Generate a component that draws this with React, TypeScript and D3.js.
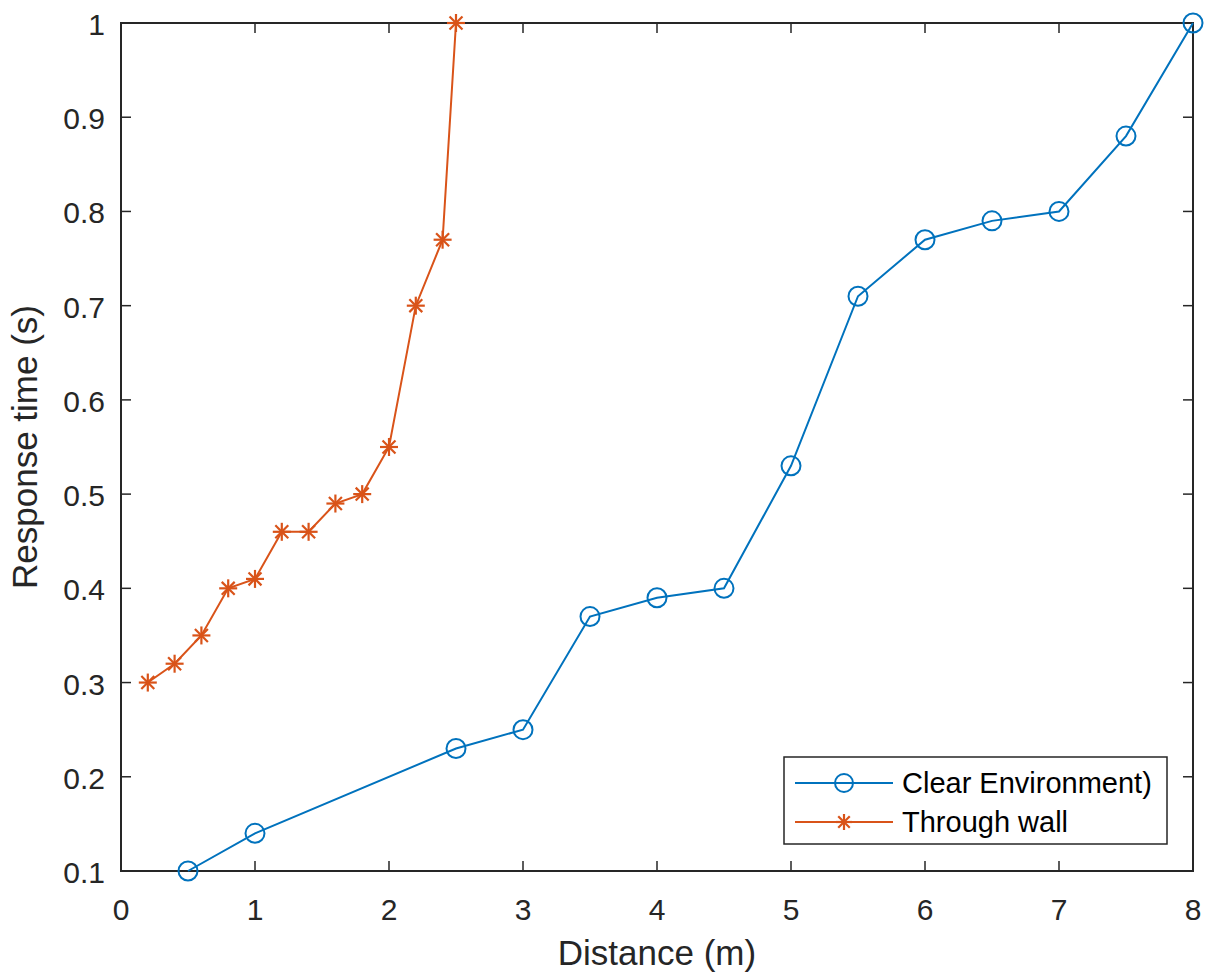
import React from 'react';
import * as d3 from 'd3';

const clearX = [0.5, 1, 2.5, 3, 3.5, 4, 4.5, 5, 5.5, 6, 6.5, 7, 7.5, 8];
const clearY = [0.1, 0.14, 0.23, 0.25, 0.37, 0.39, 0.4, 0.53, 0.71, 0.77, 0.79, 0.8, 0.88, 1.0];
const wallX = [0.2, 0.4, 0.6, 0.8, 1.0, 1.2, 1.4, 1.6, 1.8, 2.0, 2.2, 2.4, 2.5];
const wallY = [0.3, 0.32, 0.35, 0.4, 0.41, 0.46, 0.46, 0.49, 0.5, 0.55, 0.7, 0.77, 1.0];
const xTicks = [0, 1, 2, 3, 4, 5, 6, 7, 8];
const yTicks = [0.1, 0.2, 0.3, 0.4, 0.5, 0.6, 0.7, 0.8, 0.9, 1];
const seriesNames = ['Clear Environment)', 'Through wall'];

const W = 1208;
const H = 976;
const left = 121;
const right = 1193;
const top = 23;
const bottom = 871;
const axisColor = '#262626';
const blue = '#0072BD';
const orange = '#D95319';
const font = 'Helvetica, Arial, "Liberation Sans", sans-serif';

function Asterisk({ cx, cy, r }: { cx: number; cy: number; r: number }) {
  // MATLAB '*' marker: plus + cross
  const d = r * 0.72;
  return (
    <g stroke={orange} strokeWidth={2.2}>
      <line x1={cx - r} y1={cy} x2={cx + r} y2={cy} />
      <line x1={cx} y1={cy - r} x2={cx} y2={cy + r} />
      <line x1={cx - d} y1={cy - d} x2={cx + d} y2={cy + d} />
      <line x1={cx - d} y1={cy + d} x2={cx + d} y2={cy - d} />
    </g>
  );
}

export default function App() {
  const x = d3.scaleLinear().domain([0, 8]).range([left, right]);
  const y = d3.scaleLinear().domain([0.1, 1]).range([bottom, top]);
  const line = d3.line<[number, number]>().x((d) => x(d[0])).y((d) => y(d[1]));
  const clearPts: [number, number][] = clearX.map((v, i) => [v, clearY[i]]);
  const wallPts: [number, number][] = wallX.map((v, i) => [v, wallY[i]]);
  const tick = 10;

  // legend
  const lx = 784, ly = 757, lw = 383, lh = 87;
  const row1 = ly + 26, row2 = ly + 65;

  return (
    <svg width={W} height={H} style={{ position: 'absolute', left: 0, top: 0, background: '#fff' }} fontFamily={font}>
      <rect x={0} y={0} width={W} height={H} fill="#fff" />
      {/* ticks */}
      {xTicks.map((t) => (
        <g key={'x' + t} stroke={axisColor} strokeWidth={1.5}>
          <line x1={x(t)} x2={x(t)} y1={bottom} y2={bottom - tick} />
          <line x1={x(t)} x2={x(t)} y1={top} y2={top + tick} />
        </g>
      ))}
      {yTicks.map((t) => (
        <g key={'y' + t} stroke={axisColor} strokeWidth={1.5}>
          <line x1={left} x2={left + tick} y1={y(t)} y2={y(t)} />
          <line x1={right} x2={right - tick} y1={y(t)} y2={y(t)} />
        </g>
      ))}
      <rect x={left} y={top} width={right - left} height={bottom - top} fill="none" stroke={axisColor} strokeWidth={2} />
      {xTicks.map((t) => (
        <text key={'xl' + t} x={x(t)} y={bottom + 49} textAnchor="middle" fontSize={30} fill={axisColor}>
          {t}
        </text>
      ))}
      {yTicks.map((t) => (
        <text key={'yl' + t} x={left - 16} y={y(t) + 12} textAnchor="end" fontSize={30} fill={axisColor}>
          {t === 1 ? '1' : t.toFixed(1)}
        </text>
      ))}
      <text x={(left + right) / 2} y={965} textAnchor="middle" fontSize={35} fill={axisColor}>
        Distance (m)
      </text>
      <text transform={`translate(37,${(top + bottom) / 2}) rotate(-90)`} textAnchor="middle" fontSize={35} fill={axisColor}>
        Response time (s)
      </text>

      {/* series */}
      <path d={line(clearPts) || ''} fill="none" stroke={blue} strokeWidth={2} />
      {clearPts.map((p, i) => (
        <circle key={'c' + i} cx={x(p[0])} cy={y(p[1])} r={9.5} fill="none" stroke={blue} strokeWidth={2} />
      ))}
      <path d={line(wallPts) || ''} fill="none" stroke={orange} strokeWidth={2} />
      {wallPts.map((p, i) => (
        <Asterisk key={'w' + i} cx={x(p[0])} cy={y(p[1])} r={9} />
      ))}

      {/* legend */}
      <rect x={lx} y={ly} width={lw} height={lh} fill="#fff" stroke={axisColor} strokeWidth={1.5} />
      <line x1={lx + 11} x2={lx + 109} y1={row1} y2={row1} stroke={blue} strokeWidth={2} />
      <circle cx={lx + 60} cy={row1} r={9} fill="none" stroke={blue} strokeWidth={2} />
      <text x={lx + 118} y={row1 + 10} fontSize={29} fill="#000">
        {seriesNames[0]}
      </text>
      <line x1={lx + 11} x2={lx + 109} y1={row2} y2={row2} stroke={orange} strokeWidth={2} />
      <Asterisk cx={lx + 60} cy={row2} r={8} />
      <text x={lx + 118} y={row2 + 10} fontSize={29} fill="#000">
        {seriesNames[1]}
      </text>
    </svg>
  );
}
